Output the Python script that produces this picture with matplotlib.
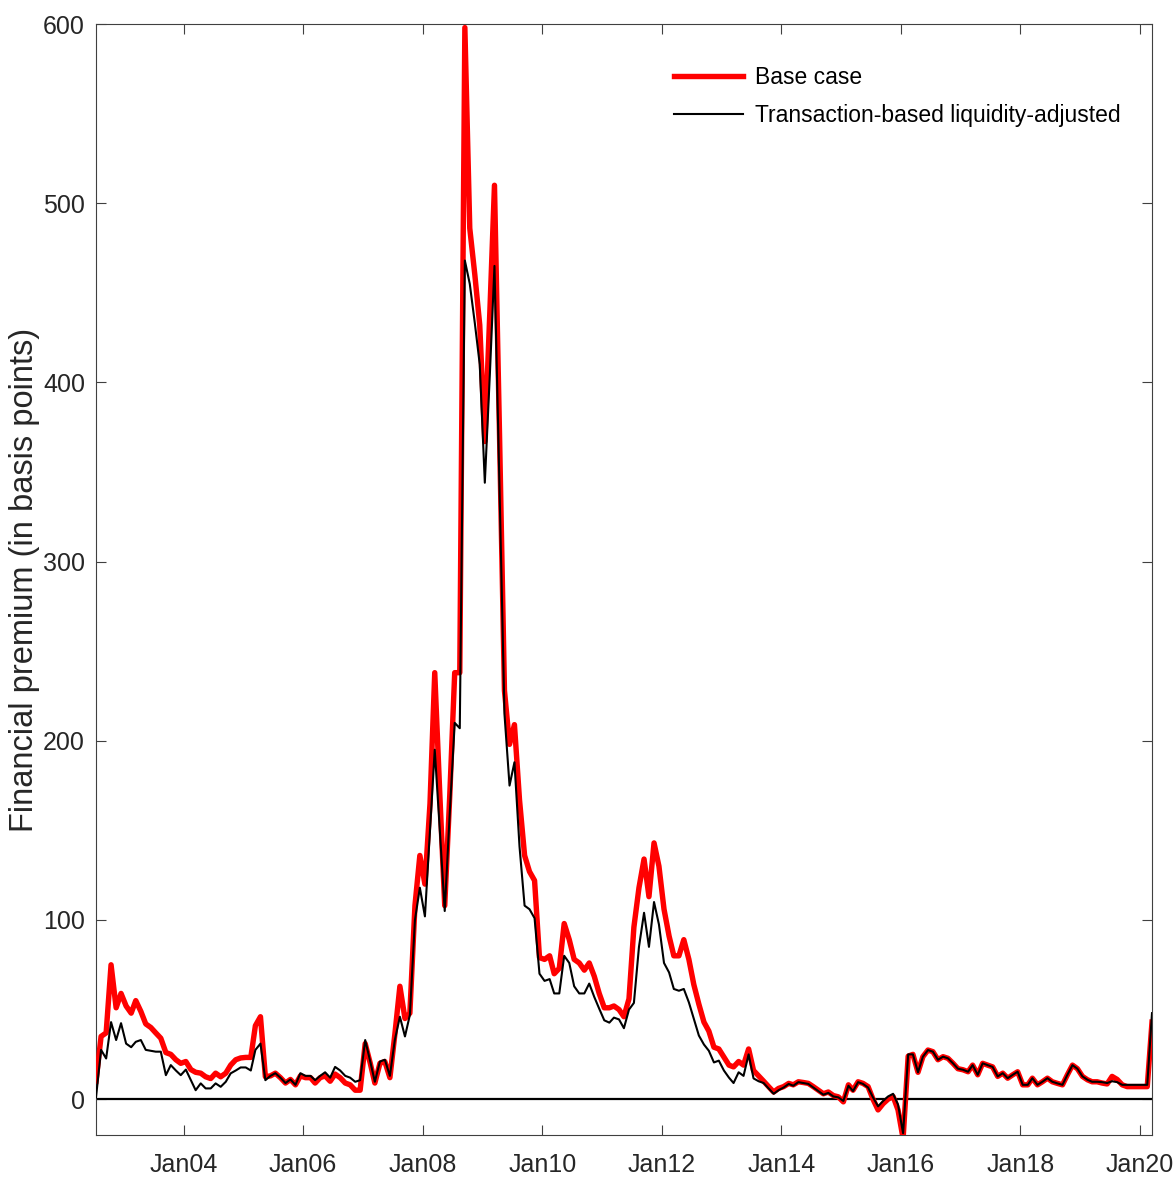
import matplotlib
matplotlib.use("Agg")
import matplotlib.pyplot as plt
import pandas as pd

plt.rcParams['font.family'] = ['Liberation Sans', 'DejaVu Sans']

# Monthly observations, Jul 2002 .. Mar 2020 (mid-month)
dates = pd.date_range('2002-07-01', periods=213, freq='MS') + pd.Timedelta(days=14)

base_case = [
    10, 35, 37, 75, 51, 59, 52, 48, 55, 49,
    42, 40, 37, 34, 26, 25, 22, 20, 21, 16.5,
    15, 14.5, 12.5, 11.5, 14.5, 12.5, 14.5, 19, 22, 23,
    23.3, 23.3, 41, 46, 12.5, 13, 14.5, 12, 9, 11,
    8, 13, 12, 12, 9, 12, 13, 10, 14, 12,
    9, 8, 5, 5, 31, 20, 9, 20, 21, 12,
    36, 63, 45, 48, 108, 136, 120, 165, 238, 170,
    108, 170, 238, 238, 598, 486, 460, 432, 367, 440,
    510, 370, 228, 198, 209, 167, 136, 127, 122, 79,
    78, 80, 70, 73, 98, 89, 78, 76, 72, 76,
    68.5, 59, 51, 51, 52, 50, 46, 56, 96, 118,
    134, 113, 143, 130, 106, 91, 80, 80, 89, 78,
    64, 53, 43, 38, 29, 28, 23.5, 19, 18, 21,
    19, 28, 16, 13, 10, 7, 4, 6, 7, 8.8,
    8, 9.7, 9.3, 8.8, 7, 5, 3, 4, 2, 1.3,
    -1.5, 8, 5, 9.7, 8.8, 7, 0, -6, -2.5, 0,
    1.5, -6, -22, 24, 25, 15, 23.7, 27.4, 26.5, 22,
    23.7, 22.8, 20, 17, 16.4, 15.3, 19, 13.6, 20, 19,
    18, 12.7, 14.5, 11.7, 13.6, 15.3, 8, 8, 11.7, 8,
    9.7, 11.7, 9.7, 8.8, 8, 13.6, 19, 17, 12.7, 10.8,
    9.7, 9.7, 9, 8.5, 12.7, 11, 8, 7, 7, 7,
    7, 7, 43,
]

liquidity_adj = [
    1, 27.5, 22.7, 43, 33, 42.4, 31, 29, 32, 33,
    27.5, 27, 26.5, 26.5, 13.4, 19, 16, 13.4, 16.5, 10.6,
    5, 8.8, 6, 6, 8.8, 6.9, 9.7, 14.4, 16, 17.7,
    17.7, 16, 27.5, 31, 10.6, 13, 14.5, 12, 9, 11,
    8, 14.5, 13, 13, 10.6, 13, 15, 12, 18, 16,
    13, 12, 9.7, 10.6, 33, 21, 9.7, 21, 22, 13,
    33, 46, 35, 47, 100, 118, 102, 150, 195, 150,
    105, 160, 210, 207, 468, 455, 433, 410, 344, 405,
    465, 340, 215, 175, 188, 141, 108, 106, 101, 70,
    66, 67, 59, 59, 80, 76, 63, 59, 59, 64.5,
    57, 50.5, 44, 42.7, 45.5, 44.5, 39.6, 50, 53.7, 85,
    104, 85, 110, 97.5, 76, 70.7, 61.5, 60.5, 61.5, 54,
    45, 35.5, 30.5, 27, 20.5, 21.5, 16, 12, 9, 15,
    13, 25, 11.6, 10, 9, 6, 3, 5, 6.5, 8.5,
    7.5, 9.5, 9, 8.5, 6.5, 4.5, 2.5, 3.5, 1.5, 1,
    -1, 7.5, 4.5, 9.5, 8.5, 6.5, 1, -4, -1, 1.5,
    3, -3, -19, 25, 25, 15, 23.7, 27.4, 26.5, 22,
    23.7, 22.8, 20, 17, 16.4, 15.3, 19, 13.6, 20, 19,
    18, 12.7, 14.5, 11.7, 13.6, 15.3, 8, 8, 11.7, 8,
    9.7, 11.7, 9.7, 8.8, 8, 13.6, 19, 17, 12.7, 10.8,
    9.7, 9.7, 9.5, 9, 10, 9.5, 8, 8, 8, 8,
    8, 8, 48,
]

series_labels = ["Base case", "Transaction-based liquidity-adjusted"]
tick_years = list(range(2004, 2021, 2))
y_ticks = [0, 100, 200, 300, 400, 500, 600]

W, H = 1173, 1182
fig = plt.figure(figsize=(W / 100, H / 100), dpi=100)
ax = fig.add_axes([96 / W, 1 - 1135 / H, (1152 - 96) / W, (1135 - 24) / H])

ax.plot(dates, base_case, color='#ff0000', lw=3.9, label=series_labels[0],
        solid_joinstyle='round', zorder=3)
ax.plot(dates, liquidity_adj, color='black', lw=1.5, label=series_labels[1], zorder=4)
ax.axhline(0, color='black', lw=1.6, zorder=2)

ax.set_xlim(dates[0], dates[-1])
ax.set_ylim(-20, 600)

ticks = [pd.Timestamp(f'{y}-01-01') for y in tick_years]
ax.set_xticks(ticks)
ax.set_xticklabels([f'Jan{str(y)[2:]}' for y in tick_years])
ax.set_yticks(y_ticks)

gray = '#262626'
for s in ax.spines.values():
    s.set_color('#404040')
    s.set_linewidth(0.8)
ax.tick_params(direction='in', length=7, width=0.8, colors='#404040',
               labelcolor=gray, labelsize=18, top=True, right=True)
ax.tick_params(axis='x', pad=13)
ax.tick_params(axis='y', pad=8)

ax.set_ylabel('Financial premium (in basis points)', fontsize=23.5, color=gray,
              labelpad=2)

leg = ax.legend(loc='upper right', bbox_to_anchor=(0.99, 0.981), frameon=False,
                fontsize=16.5, handlelength=3.0, handletextpad=0.55, labelspacing=0.68)
for t in leg.get_texts():
    t.set_color('black')

fig.savefig('out.png', dpi=100)
